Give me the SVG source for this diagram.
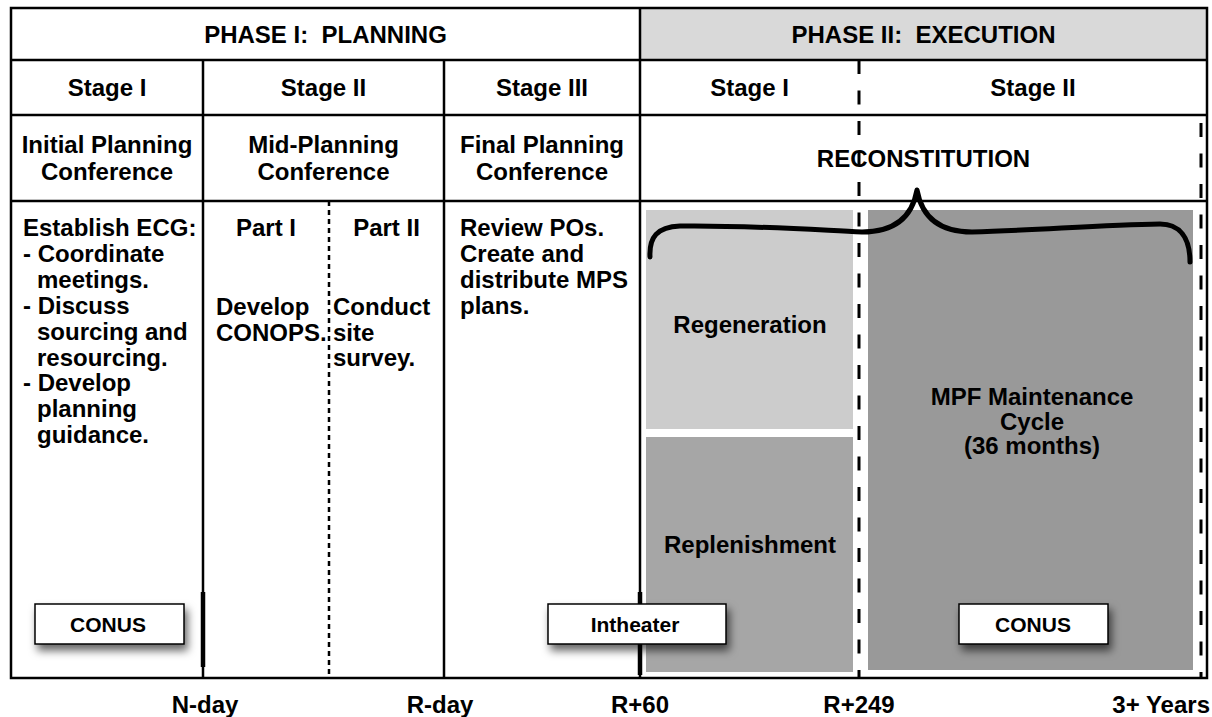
<svg xmlns="http://www.w3.org/2000/svg" width="1212" height="717" viewBox="0 0 1212 717">
<defs>
<style>
text{font-family:"Liberation Sans",Arial,Helvetica,sans-serif;font-weight:bold;font-size:24px;fill:#000;white-space:pre}
.c{text-anchor:middle}
.s{font-size:21px}
.grid{stroke:#000;stroke-width:2.5;fill:none}
.dash{stroke:#000;stroke-width:3;stroke-dasharray:14 16.5;fill:none}
.dot{stroke:#000;stroke-width:2.5;stroke-dasharray:5 4;fill:none}
.tag{fill:#fff;stroke:#000;stroke-width:1.5}
</style>
<filter id="sh" x="-20%" y="-40%" width="150%" height="200%">
<feDropShadow dx="3" dy="6" stdDeviation="4" flood-color="#000" flood-opacity="0.6"/>
</filter>
</defs>
<rect width="1212" height="717" fill="#fff"/>
<rect x="640" y="8" width="567" height="52" fill="#d9d9d9"/>
<g id="boxes">
<g id="regeneration"><rect x="646" y="210" width="207" height="219" fill="#cccccc"/><text class="c" x="750" y="333">Regeneration</text></g>
<g id="replenishment"><rect x="646" y="437" width="207" height="235" fill="#a6a6a6"/><text class="c" x="750" y="553">Replenishment</text></g>
<g id="mpf"><rect x="868" y="210" width="325" height="460" fill="#999999"/>
<text class="c" x="1032" y="405">MPF Maintenance</text><text class="c" x="1032" y="429.5">Cycle</text><text class="c" x="1032" y="454">(36 months)</text></g>
</g>
<g id="connectors">
<rect class="grid" x="11" y="8" width="1196" height="670"/>
<line class="grid" x1="11" y1="60" x2="1207" y2="60"/>
<line class="grid" x1="11" y1="115" x2="1207" y2="115"/>
<line class="grid" x1="11" y1="201" x2="1207" y2="201"/>
<line class="grid" x1="640" y1="8" x2="640" y2="678"/>
<line class="grid" x1="203" y1="60" x2="203" y2="678"/>
<line class="grid" x1="444" y1="60" x2="444" y2="678"/>
<line class="dot" x1="329" y1="201" x2="329" y2="678"/>
<line class="dash" x1="859" y1="60" x2="859" y2="678"/>
<line class="dash" x1="1201" y1="123" x2="1201" y2="678"/>
<line stroke="#000" stroke-width="4.5" x1="203" y1="592" x2="203" y2="667"/>
<line stroke="#000" stroke-width="4.5" x1="640" y1="592" x2="640" y2="675"/>
<path d="M650 257 C649 237 657 227 680 226 C740 225 800 229 862 232 C893 232 912 218 917 190 C922 218 940 232 972 232 C1040 230 1100 225 1160 224 C1180 224 1190 238 1190 262" fill="none" stroke="#000" stroke-width="5" stroke-linecap="round" stroke-linejoin="round"/>
</g>
<g id="headers">
<text class="c" x="325.5" y="42.5">PHASE I:  PLANNING</text>
<text class="c" x="923.5" y="42.5">PHASE II:  EXECUTION</text>
<text class="c" x="107" y="96">Stage I</text>
<text class="c" x="323.5" y="96">Stage II</text>
<text class="c" x="542" y="96">Stage III</text>
<text class="c" x="749.5" y="96">Stage I</text>
<text class="c" x="1033" y="96">Stage II</text>
<text class="c" x="107" y="153">Initial Planning</text><text class="c" x="107" y="180">Conference</text>
<text class="c" x="323.5" y="153">Mid-Planning</text><text class="c" x="323.5" y="180">Conference</text>
<text class="c" x="542" y="153">Final Planning</text><text class="c" x="542" y="180">Conference</text>
<text class="c" x="923.5" y="166.5">RECONSTITUTION</text>
</g>
<g id="stage1-body">
<text x="23" y="236">Establish ECG:</text>
<text x="23" y="261.9">- Coordinate</text>
<text x="37" y="287.8">meetings.</text>
<text x="23" y="313.7">- Discuss</text>
<text x="37" y="339.6">sourcing and</text>
<text x="37" y="365.5">resourcing.</text>
<text x="23" y="391.4">- Develop</text>
<text x="37" y="417.3">planning</text>
<text x="37" y="443.2">guidance.</text>
</g>
<g id="stage2-body">
<text class="c" x="266" y="236">Part I</text>
<text x="216" y="314.5">Develop</text><text x="216" y="340.5">CONOPS.</text>
<text class="c" x="386.5" y="236">Part II</text>
<text x="333" y="314.5">Conduct</text><text x="333" y="340.5">site</text><text x="333" y="366">survey.</text>
</g>
<g id="stage3-body">
<text x="460" y="236">Review POs.</text>
<text x="460" y="261.9">Create and</text>
<text x="460" y="287.8">distribute MPS</text>
<text x="460" y="313.7">plans.</text>
</g>
<g id="tag-conus1"><rect class="tag" filter="url(#sh)" x="35" y="604" width="149" height="40"/><text class="c s" x="108" y="631.5">CONUS</text></g>
<g id="tag-intheater"><rect class="tag" filter="url(#sh)" x="548" y="604" width="178" height="40"/><text class="c s" x="635" y="631.5">Intheater</text></g>
<g id="tag-conus2"><rect class="tag" filter="url(#sh)" x="959" y="604" width="149" height="40"/><text class="c s" x="1033" y="631.5">CONUS</text></g>
<g id="timeline">
<text class="c" x="205" y="713">N-day</text>
<text class="c" x="440" y="713">R-day</text>
<text class="c" x="640" y="713">R+60</text>
<text class="c" x="859" y="713">R+249</text>
<text x="1210" y="713" text-anchor="end">3+ Years</text>
</g>
</svg>
